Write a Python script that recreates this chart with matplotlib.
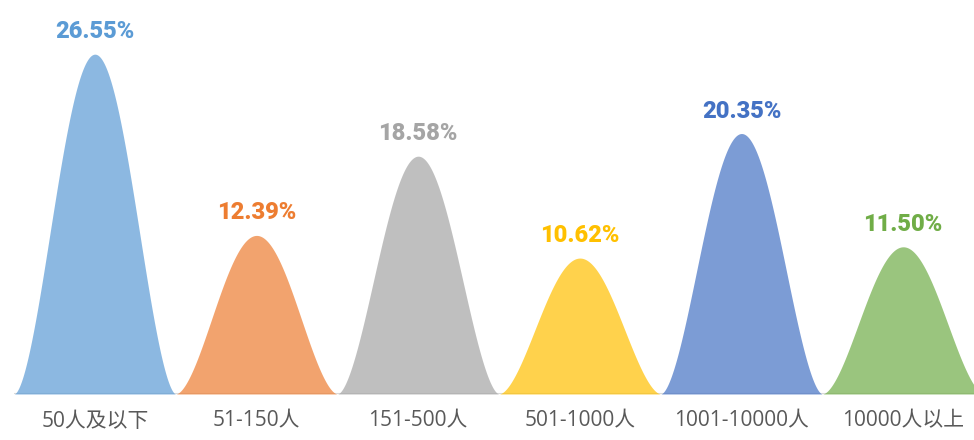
import numpy as np
import matplotlib
matplotlib.use('Agg')
import matplotlib.pyplot as plt

# data
categories = ['50人及以下', '51-150人', '151-500人', '501-1000人', '1001-10000人', '10000人以上']
values = [26.55, 12.39, 18.58, 10.62, 20.35, 11.50]
colors = ['#5B9BD5', '#ED7D31', '#A5A5A5', '#FFC000', '#4472C4', '#70AD47']

plt.rcParams['font.family'] = ['Open Sans', 'Noto Sans CJK SC', 'DejaVu Sans']

fig = plt.figure(figsize=(9.74, 4.4), dpi=100)
ax = fig.add_axes([14 / 974, 46 / 440, 970 / 974, 384 / 440])

# bell shaped "mountain" for each category (slightly rounder top than a raised cosine)
t = np.linspace(-0.5, 0.5, 300)
shape = ((1 + np.cos(2 * np.pi * t)) / 2) ** 0.85
for i, (v, c) in enumerate(zip(values, colors)):
    ax.fill_between(i + t, 0, v * shape, color=c, alpha=0.7, linewidth=0)
    ax.annotate(f'{v:.2f}%', (i, v), xytext=(0, 11.5), textcoords='offset points',
                ha='center', va='baseline', color=c, fontsize=17,
                fontweight='black', family=['Roboto', 'DejaVu Sans'])

ax.axhline(0, color='#D9D9D9', linewidth=1.5, zorder=0)

ax.set_xlim(-0.5, 5.5)
ax.set_ylim(0, 30)
ax.set_xticks(range(len(categories)))
ax.set_xticklabels(categories, fontsize=15, color='#595959')
ax.tick_params(axis='x', length=0, pad=12)
ax.set_yticks([])
for s in ax.spines.values():
    s.set_visible(False)

fig.savefig('out.png', dpi=100)
plt.close(fig)
